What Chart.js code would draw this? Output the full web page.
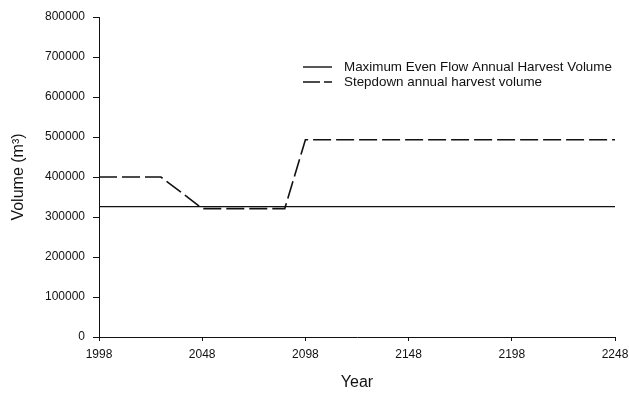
<!DOCTYPE html>
<html lang="en">
<head>
    <meta charset="UTF-8">
    <title>Annual Harvest Volume</title>
    <script src="https://cdn.jsdelivr.net/npm/chart.js"></script>
    <style>
        body { margin: 0; background: #fff; }
        #harvestChart { display: block; }
    </style>
</head>
<body>
    <canvas id="harvestChart" width="629" height="395"></canvas>

    <script>
        // Planning periods (10-year steps)
        var years = [1998, 2008, 2018, 2028, 2038, 2048, 2058, 2068, 2078, 2088, 2098, 2108, 2118,
                     2128, 2138, 2148, 2158, 2168, 2178, 2188, 2198, 2208, 2218, 2228, 2238, 2248];

        // Maximum even flow harvest (m3 per year)
        var evenFlow = [326000, 326000, 326000, 326000, 326000, 326000, 326000, 326000, 326000,
                        326000, 326000, 326000, 326000, 326000, 326000, 326000, 326000, 326000,
                        326000, 326000, 326000, 326000, 326000, 326000, 326000, 326000];

        // Stepdown harvest (m3 per year)
        var stepdown = [400000, 400000, 400000, 400000, 361000, 321000, 321000, 321000, 321000,
                        321000, 493000, 493000, 493000, 493000, 493000, 493000, 493000, 493000,
                        493000, 493000, 493000, 493000, 493000, 493000, 493000, 493000];

        var yearTicks = [1998, 2048, 2098, 2148, 2198, 2248];
        var seriesNames = ['Maximum Even Flow Annual Harvest Volume', 'Stepdown annual harvest volume'];

        Chart.defaults.font.family = "'Liberation Sans', Arial, sans-serif";
        Chart.defaults.color = '#111';

        function toPoints(values) {
            return values.map(function (v, i) { return { x: years[i], y: v }; });
        }

        // Legend box drawn inside the plot, upper right
        var insideLegend = {
            id: 'insideLegend',
            afterDraw: function (chart) {
                var ctx = chart.ctx;
                var rows = [
                    { y: 67, dash: [] },
                    { y: 82, dash: [17, 4] }
                ];
                ctx.save();
                ctx.strokeStyle = '#111';
                ctx.lineWidth = 1.4;
                ctx.fillStyle = '#111';
                ctx.font = "13.4px 'Liberation Sans', Arial, sans-serif";
                ctx.textBaseline = 'middle';
                rows.forEach(function (row, i) {
                    ctx.setLineDash(row.dash);
                    ctx.beginPath();
                    ctx.moveTo(303, row.y);
                    ctx.lineTo(332, row.y);
                    ctx.stroke();
                    ctx.fillText(seriesNames[i], 344, row.y);
                });
                ctx.restore();
            }
        };

        var chart = new Chart(document.getElementById('harvestChart'), {
            type: 'line',
            data: {
                datasets: [{
                    label: seriesNames[0],
                    data: toPoints(evenFlow),
                    borderColor: '#111',
                    borderWidth: 1.3,
                    pointRadius: 0,
                    tension: 0
                }, {
                    label: seriesNames[1],
                    data: toPoints(stepdown),
                    borderColor: '#111',
                    borderWidth: 1.6,
                    borderDash: [18, 5],
                    pointRadius: 0,
                    tension: 0
                }]
            },
            options: {
                responsive: false,
                animation: false,
                layout: { padding: { left: 9, top: 17, right: 14, bottom: 3 } },
                plugins: {
                    legend: { display: false },
                    tooltip: { enabled: false }
                },
                scales: {
                    x: {
                        type: 'linear',
                        min: 1998,
                        max: 2248,
                        afterBuildTicks: function (scale) {
                            scale.ticks = yearTicks.map(function (v) { return { value: v }; });
                        },
                        afterFit: function (scale) {
                            scale.height = 55;
                            scale.paddingLeft = 0;
                            scale.paddingRight = 0;
                        },
                        ticks: {
                            font: { size: 12 },
                            padding: 6,
                            maxRotation: 0,
                            callback: function (v) { return String(v); }
                        },
                        grid: { drawOnChartArea: false, drawTicks: true, tickLength: 4, color: '#111' },
                        border: { display: true, color: '#111', width: 1 },
                        title: {
                            display: true,
                            text: 'Year',
                            font: { size: 16 },
                            padding: 0
                        }
                    },
                    y: {
                        min: 0,
                        max: 800000,
                        afterFit: function (scale) { scale.width = 90; },
                        ticks: {
                            stepSize: 100000,
                            font: { size: 12 },
                            padding: 8,
                            callback: function (v) { return String(v); }
                        },
                        grid: { drawOnChartArea: false, drawTicks: true, tickLength: 6, color: '#111' },
                        border: { display: true, color: '#111', width: 1 },
                        title: {
                            display: true,
                            text: 'Volume (m\u00b3)',
                            font: { size: 16 },
                            padding: 0
                        }
                    }
                }
            },
            plugins: [insideLegend]
        });
    </script>
</body>
</html>
